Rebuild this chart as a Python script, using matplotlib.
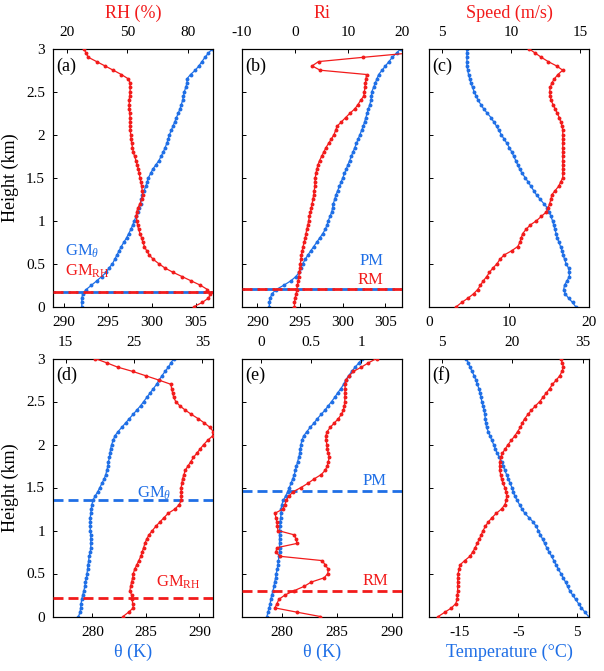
import matplotlib
matplotlib.use("Agg")
import matplotlib.pyplot as plt

plt.rcParams['font.family'] = ['Liberation Serif', 'DejaVu Serif']
plt.rcParams['mathtext.fontset'] = 'custom'
plt.rcParams['mathtext.rm'] = 'Liberation Serif'
plt.rcParams['mathtext.it'] = 'Liberation Serif:italic'
plt.rcParams['axes.unicode_minus'] = False

RED = '#F21B1B'
BLUE = '#1F6FE6'

# ---------------- data ----------------
height = [0.00, 0.05, 0.10, 0.15, 0.20, 0.25, 0.30, 0.35, 0.40, 0.45,
          0.50, 0.55, 0.60, 0.65, 0.70, 0.75, 0.80, 0.85, 0.90, 0.95,
          1.00, 1.05, 1.10, 1.15, 1.20, 1.25, 1.30, 1.35, 1.40, 1.45,
          1.50, 1.55, 1.60, 1.65, 1.70, 1.75, 1.80, 1.85, 1.90, 1.95,
          2.00, 2.05, 2.10, 2.15, 2.20, 2.25, 2.30, 2.35, 2.40, 2.45,
          2.50, 2.55, 2.60, 2.65, 2.70, 2.75, 2.80, 2.85, 2.90, 2.95, 3.00]

# (a) potential temperature (K) and RH (%)
a_theta = [292.0, 292.0, 292.0, 292.1, 292.5, 293.1, 293.7, 294.25, 294.8, 295.1,
           295.5, 295.75, 296.0, 296.25, 296.5, 296.8, 297.1, 297.35, 297.6, 297.8,
           298.0, 298.2, 298.4, 298.55, 298.7, 298.8, 298.9, 299.1, 299.3, 299.45,
           299.6, 299.85, 300.1, 300.45, 300.8, 301.05, 301.3, 301.5, 301.7, 301.85,
           302.0, 302.2, 302.4, 302.6, 302.8, 303.0, 303.2, 303.35, 303.5, 303.6,
           303.7, 303.85, 304.0, 304.0, 304.4, 304.95, 305.35, 305.7, 306.05, 306.45, 306.9]
a_rh = [82.8, 87.0, 90.0, 91.0, 89.5, 86.0, 81.5, 77.0, 72.5, 68.5,
        65.5, 62.8, 60.8, 59.5, 58.4, 57.6, 57.0, 56.2, 55.5, 55.0,
        54.6, 54.4, 54.5, 55.2, 56.2, 57.0, 57.5, 57.3, 57.0, 56.6,
        56.2, 55.8, 55.4, 54.8, 54.2, 53.5, 52.9, 52.5, 52.1, 51.8,
        51.6, 51.4, 51.3, 51.3, 51.3, 51.1, 50.9, 50.9, 50.9, 51.1,
        51.3, 51.3, 51.3, 50.4, 47.0, 43.0, 38.9, 34.8, 30.7, 29.5, 28.6]

# (b) potential temperature (K) and Ri
b_theta = [291.4, 291.4, 291.5, 291.7, 292.2, 293.1, 293.9, 294.5, 294.9, 295.1,
           295.3, 295.6, 295.9, 296.25, 296.6, 296.95, 297.3, 297.65, 297.95, 298.15,
           298.3, 298.5, 298.7, 298.8, 298.9, 299.05, 299.2, 299.4, 299.6, 299.8,
           300.0, 300.2, 300.4, 300.6, 300.8, 301.0, 301.2, 301.4, 301.6, 301.8,
           302.0, 302.2, 302.4, 302.55, 302.7, 302.85, 303.0, 303.15, 303.3, 303.35,
           303.4, 303.6, 303.8, 304.0, 304.2, 304.6, 305.0, 305.4, 305.8, 306.3, 306.8]
b_ri = [-0.1, -0.1, 0.0, 0.2, 0.35, 0.45, 0.55, 0.7, 0.8, 0.9,
        1.0, 1.1, 1.2, 1.35, 1.5, 1.7, 1.9, 2.05, 2.2, 2.4,
        2.55, 2.7, 2.9, 3.05, 3.2, 3.35, 3.5, 3.6, 3.7, 3.75,
        3.8, 3.9, 4.1, 4.3, 4.6, 5.0, 5.4, 5.8, 6.3, 6.8,
        7.3, 7.6, 7.9, 8.7, 9.5, 10.3, 11.2, 11.8, 12.3, 12.9,
        13.0, 13.1, 13.2, 13.3, 13.4, 4.7, 3.2, 4.4, 12.8, 21.5, 25.0]

# (c) bottom-axis quantity and wind speed (m/s)
c_bottom = [18.3, 17.9, 17.4, 17.0, 16.8, 16.9, 17.2, 17.5, 17.5, 17.4,
            17.1, 16.9, 16.75, 16.6, 16.4, 16.2, 16.0, 15.85, 15.7, 15.55,
            15.4, 15.2, 15.0, 14.75, 14.3, 13.85, 13.4, 13.05, 12.7, 12.35,
            12.0, 11.6, 11.3, 11.05, 10.8, 10.55, 10.3, 10.0, 9.7, 9.35,
            9.0, 8.7, 8.4, 8.05, 7.7, 7.25, 6.8, 6.45, 6.1, 5.85,
            5.6, 5.4, 5.2, 5.05, 4.9, 4.8, 4.7, 4.7, 4.7, 4.7, 4.7]
c_speed = [6.05, 6.45, 6.9, 7.3, 7.6, 7.8, 8.0, 8.25, 8.45, 8.7,
           9.0, 9.2, 9.5, 10.05, 10.5, 10.65, 10.75, 10.85, 11.1, 11.4,
           11.85, 12.2, 12.55, 12.7, 12.8, 12.9, 12.95, 13.2, 13.45, 13.6,
           13.75, 13.75, 13.75, 13.75, 13.75, 13.75, 13.75, 13.75, 13.75, 13.75,
           13.75, 13.75, 13.7, 13.6, 13.5, 13.35, 13.2, 13.05, 12.9, 12.85,
           12.8, 12.85, 12.95, 13.15, 13.4, 13.75, 13.3, 12.7, 12.2, 11.75, 11.3]

# (d) potential temperature (K) and top-axis quantity
d_theta = [278.7, 278.85, 278.9, 278.95, 279.0, 279.1, 279.2, 279.3, 279.35, 279.45,
           279.5, 279.55, 279.6, 279.65, 279.7, 279.8, 279.85, 279.85, 279.85, 279.85,
           279.8, 279.8, 279.8, 279.8, 279.85, 279.9, 279.95, 280.05, 280.25, 280.5,
           280.7, 280.9, 281.1, 281.25, 281.35, 281.45, 281.5, 281.6, 281.65, 281.7,
           281.8, 281.95, 282.1, 282.4, 282.75, 283.1, 283.45, 283.8, 284.15, 284.5,
           284.8, 285.1, 285.4, 285.7, 286.0, 286.25, 286.5, 286.8, 287.1, 287.35, 287.6]
d_top = [23.4, 24.2, 24.9, 24.8, 24.75, 24.65, 24.4, 24.5, 24.65, 24.8,
         24.9, 25.1, 25.4, 25.7, 26.0, 26.2, 26.4, 26.6, 26.85, 27.2,
         27.7, 28.2, 28.8, 29.4, 30.0, 31.0, 31.6, 31.9, 31.9, 31.9,
         31.9, 32.0, 32.1, 32.3, 32.5, 32.9, 33.3, 33.7, 34.2, 34.7,
         35.2, 35.8, 36.5, 36.6, 36.1, 35.3, 34.4, 33.4, 32.5, 31.7,
         31.1, 30.8, 30.65, 30.5, 30.4, 28.6, 26.7, 24.8, 22.6, 21.0, 19.3]

# (e) potential temperature (K) and top-axis quantity
e_theta = [278.6, 278.7, 278.8, 278.9, 278.95, 279.05, 279.15, 279.25, 279.3, 279.4,
           279.45, 279.55, 279.6, 279.65, 279.7, 279.75, 279.75, 279.75, 279.75, 279.75,
           279.75, 279.8, 279.8, 279.85, 279.9, 279.9, 279.95, 280.1, 280.3, 280.5,
           280.65, 280.8, 280.95, 281.1, 281.2, 281.3, 281.4, 281.5, 281.6, 281.65,
           281.7, 281.8, 281.95, 282.25, 282.55, 282.9, 283.2, 283.55, 283.9, 284.2,
           284.5, 284.8, 285.05, 285.35, 285.6, 285.8, 286.05, 286.35, 286.65, 287.0, 287.3]
e_top = [0.59, 0.36, 0.14, 0.16, 0.18, 0.24, 0.33, 0.43, 0.50, 0.63,
         0.665, 0.67, 0.64, 0.61, 0.19, 0.15, 0.16, 0.36, 0.35, 0.33,
         0.17, 0.165, 0.16, 0.15, 0.14, 0.22, 0.24, 0.25, 0.28, 0.32,
         0.40, 0.47, 0.53, 0.60, 0.64, 0.66, 0.67, 0.68, 0.67, 0.66,
         0.655, 0.65, 0.645, 0.66, 0.69, 0.73, 0.77, 0.80, 0.82, 0.83,
         0.834, 0.835, 0.836, 0.837, 0.838, 0.845, 0.88, 0.92, 1.0, 1.07, 1.15]

# (f) temperature (degC) and top-axis quantity
f_temp = [6.9, 6.3, 5.7, 5.2, 4.7, 4.2, 3.7, 3.35, 3.0, 2.6,
          2.2, 1.8, 1.4, 1.0, 0.65, 0.2, -0.2, -0.55, -0.9, -1.25,
          -1.6, -2.0, -2.5, -3.2, -3.9, -4.4, -4.8, -5.2, -5.6, -5.85,
          -6.1, -6.4, -6.7, -7.0, -7.3, -7.55, -7.8, -8.2, -8.6, -8.9,
          -9.2, -9.5, -9.8, -10.1, -10.4, -10.5, -10.6, -10.7, -10.8, -11.0,
          -11.2, -11.35, -11.5, -11.7, -11.95, -12.2, -12.5, -12.85, -13.2, -13.5, -13.8]
f_top = [4.3, 5.7, 7.1, 8.0, 8.3, 8.35, 8.4, 8.4, 8.4, 8.45,
         8.5, 8.7, 8.9, 9.9, 11.0, 11.6, 12.1, 12.55, 13.0, 13.4,
         13.8, 14.3, 14.9, 15.7, 16.6, 17.7, 18.4, 18.7, 18.8, 18.7,
         18.4, 18.0, 17.7, 17.5, 17.35, 17.3, 17.35, 17.55, 17.9, 18.5,
         19.1, 19.8, 20.5, 21.1, 21.7, 22.1, 22.6, 23.3, 24.05, 24.9,
         25.8, 26.5, 27.2, 27.9, 28.5, 29.3, 30.05, 30.5, 30.8, 30.6, 30.2]

# mixing-height markers (km)
a_gm_theta, a_gm_rh = 0.175, 0.175
b_pm, b_rm = 0.21, 0.21
d_gm_theta, d_gm_rh = 1.355, 0.215
e_pm, e_rm = 1.455, 0.30

y_ticks = [0, 0.5, 1, 1.5, 2, 2.5, 3]
y_ticklabels = ['0', '0.5', '1', '1.5', '2', '2.5', '3']

panels = [
    dict(lab='(a)', blue=a_theta, red=a_rh, bx=(288.75, 307.0), rx=(13.4, 92.4),
         bt=[290, 295, 300, 305], btl=['290', '295', '300', '305'],
         rt=[20, 50, 80], rtl=['20', '50', '80'], rlabel='RH (%)', blabel=None),
    dict(lab='(b)', blue=b_theta, red=b_ri, bx=(288.16, 306.9), rx=(-10, 20),
         bt=[290, 295, 300, 305], btl=['290', '295', '300', '305'],
         rt=[-10, 0, 10, 20], rtl=['-10', '0', '10', '20'], rlabel='Ri', blabel=None),
    dict(lab='(c)', blue=c_bottom, red=c_speed, bx=(0, 20), rx=(4.1, 15.67),
         bt=[0, 10, 20], btl=['0', '10', '20'],
         rt=[5, 10, 15], rtl=['5', '10', '15'], rlabel='Speed (m/s)', blabel=None),
    dict(lab='(d)', blue=d_theta, red=d_top, bx=(276.35, 291.3), rx=(13.2, 36.6),
         bt=[280, 285, 290], btl=['280', '285', '290'],
         rt=[15, 25, 35], rtl=['15', '25', '35'], rlabel=None, blabel='θ (K)'),
    dict(lab='(e)', blue=e_theta, red=e_top, bx=(276.3, 290.9), rx=(-0.19, 1.40),
         bt=[280, 285, 290], btl=['280', '285', '290'],
         rt=[0, 0.5, 1], rtl=['0', '0.5', '1'], rlabel=None, blabel='θ (K)'),
    dict(lab='(f)', blue=f_temp, red=f_top, bx=(-20.1, 7.03), rx=(2.4, 36.3),
         bt=[-15, -5, 5], btl=['-15', '-5', '5'],
         rt=[5, 20, 35], rtl=['5', '20', '35'], rlabel=None, blabel='Temperature (°C)'),
]

W, H = 604, 671
fig = plt.figure(figsize=(W / 100, H / 100), dpi=100)

col_x = [53.3, 241.7, 429.3]
row_top = [48.7, 358.5]
aw, ah = 160.0, 258.0

TICK_FS = 11
LAB_FS = 13
dash_on, dash_off = 3.6, 1.8

axes_b = []
axes_r = []
for i, p in enumerate(panels):
    r, c = divmod(i, 3)
    x0 = col_x[c] / W
    y0 = (H - row_top[r] - ah) / H
    ax = fig.add_axes([x0, y0, aw / W, ah / H])
    ax2 = ax.twiny()
    axes_b.append(ax)
    axes_r.append(ax2)

    ax.plot(p['blue'], height, '-', color=BLUE, lw=0.9, marker='o', ms=2.8, mew=0, zorder=3)
    ax2.plot(p['red'], height, '-', color=RED, lw=0.9, marker='o', ms=2.8, mew=0, zorder=3)

    ax.set_xlim(*p['bx'])
    ax2.set_xlim(*p['rx'])
    ax.set_ylim(0, 3)
    ax.set_xticks(p['bt'])
    ax.set_xticklabels(p['btl'])
    ax2.set_xticks(p['rt'])
    ax2.set_xticklabels(p['rtl'])
    ax.set_yticks(y_ticks)
    if c == 0:
        ax.set_yticklabels(y_ticklabels)
        ax.set_ylabel('Height (km)', fontsize=LAB_FS, labelpad=5)
    else:
        ax.set_yticklabels([])
    ax.tick_params(axis='both', direction='in', length=3, width=0.7, labelsize=TICK_FS,
                   pad=7, top=False, right=False)
    ax.tick_params(axis='y', pad=6)
    ax2.tick_params(axis='x', direction='in', length=3, width=0.7, labelsize=TICK_FS, pad=7)
    ax2.tick_params(axis='y', left=False, right=False, labelleft=False, labelright=False)
    for sp in list(ax.spines.values()) + list(ax2.spines.values()):
        sp.set_linewidth(0.8)
        sp.set_color('black')
    if p['rlabel']:
        ax2.set_xlabel(p['rlabel'], color=RED, fontsize=LAB_FS, labelpad=6)
    if p['blabel']:
        ax.set_xlabel(p['blabel'], color=BLUE, fontsize=LAB_FS, labelpad=3)

    ax.text(0.02, 0.915, p['lab'], transform=ax.transAxes, fontsize=13, va='baseline', ha='left')

# dashed mixing-height lines
def hdash(ax, y, color, offset=0.0):
    ax.axhline(y, color=color, lw=2.0, linestyle=(offset, (dash_on, dash_off)), zorder=4)

hdash(axes_b[0], a_gm_theta, BLUE, offset=2.7)
hdash(axes_r[0], a_gm_rh, RED)
hdash(axes_b[1], b_pm, BLUE, offset=2.7)
hdash(axes_r[1], b_rm, RED)
hdash(axes_b[3], d_gm_theta, BLUE)
hdash(axes_r[3], d_gm_rh, RED)
hdash(axes_b[4], e_pm, BLUE)
hdash(axes_r[4], e_rm, RED)

TXT_FS = 12
ax = axes_b[0]
tr = ax.get_yaxis_transform()
ax.text(0.075, 0.595, r'GM$_\theta$', transform=tr, color=BLUE, fontsize=TXT_FS, va='baseline')
ax.text(0.075, 0.36, r'GM$_{\rm RH}$', transform=tr, color=RED, fontsize=TXT_FS, va='baseline')

ax = axes_b[1]
tr = ax.get_yaxis_transform()
ax.text(0.885, 0.49, 'PM', transform=tr, color=BLUE, fontsize=TXT_FS, va='baseline', ha='right')
ax.text(0.885, 0.265, 'RM', transform=tr, color=RED, fontsize=TXT_FS, va='baseline', ha='right')

ax = axes_b[3]
tr = ax.get_yaxis_transform()
ax.text(0.52, 1.38, r'GM$_\theta$', transform=tr, color=BLUE, fontsize=TXT_FS, va='baseline')
ax.text(0.64, 0.35, r'GM$_{\rm RH}$', transform=tr, color=RED, fontsize=TXT_FS, va='baseline')

ax = axes_b[4]
tr = ax.get_yaxis_transform()
ax.text(0.755, 1.53, 'PM', transform=tr, color=BLUE, fontsize=TXT_FS, va='baseline')
ax.text(0.755, 0.37, 'RM', transform=tr, color=RED, fontsize=TXT_FS, va='baseline')

fig.savefig('out.png', dpi=100)
